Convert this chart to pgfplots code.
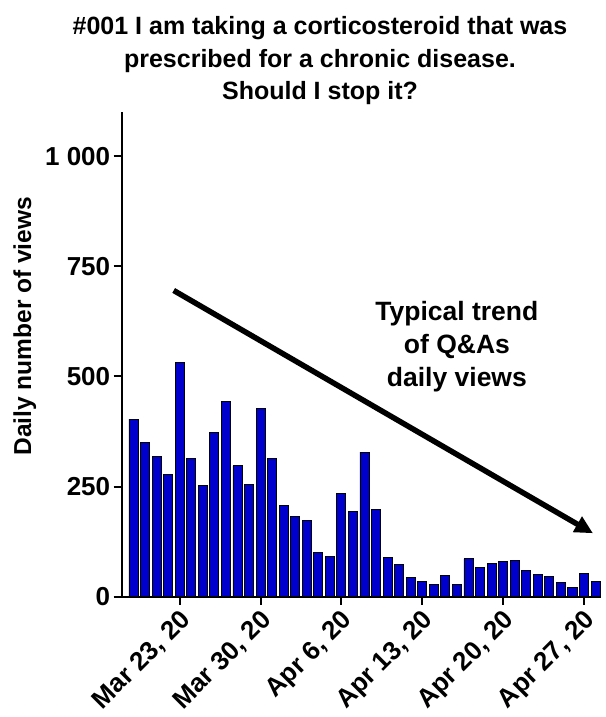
\documentclass[border=0pt]{standalone}
\usepackage{fontspec}
\setmainfont{Liberation Sans}
\usepackage{pgfplots}
\pgfplotsset{compat=1.18}
\usetikzlibrary{arrows.meta}
\definecolor{barblue}{RGB}{0,0,204}

% daily views, day 0 = Mar 19
\pgfplotstableread{
day views
0 403
1 351
2 318
3 277
4 532
5 314
6 252
7 372
8 444
9 297
10 255
11 427
12 314
13 207
14 183
15 174
16 100
17 92
18 235
19 194
20 328
21 197
22 89
23 73
24 43
25 34
26 27
27 49
28 27
29 86
30 67
31 76
32 80
33 82
34 59
35 50
36 45
37 33
38 22
39 52
40 34
}\views

\begin{document}
\begin{tikzpicture}
% frame of the whole picture
\path (-121.7pt,-120.3pt) rectangle (483.3pt,596.7pt);
\begin{axis}[
  scale only axis,
  width=479pt, height=484.7pt,
  xmin=-1.02, xmax=40.45,
  ymin=0, ymax=1100,
  axis lines*=left,
  axis line style={line width=2.2pt},
  ybar, bar width=0.78,
  xtick={4,11,18,25,32,39},
  xticklabels={{Mar 23, 20},{Mar 30, 20},{Apr 6, 20},{Apr 13, 20},{Apr 20, 20},{Apr 27, 20}},
  ytick={0,250,500,750,1000},
  yticklabels={0,250,500,750,{1 000}},
  tick align=outside,
  major tick length=8pt,
  every tick/.style={black, line width=2pt},
  ticklabel style={font=\bfseries\fontsize{26}{26}\selectfont},
  xticklabel style={overlay, xshift=-1pt, yshift=-2pt, rotate=45, anchor=north east, inner sep=1pt,
    font=\bfseries\fontsize{26}{26}\selectfont},
  ylabel={Daily number of views},
  every axis y label/.style={at={(rel axis cs:0,0.558)}, xshift=-97pt, rotate=90, anchor=center,
    font=\bfseries\fontsize{24.5}{24.5}\selectfont},
  clip=false,
]
\addplot[fill=barblue, draw=black, line width=0.8pt] table[x=day, y=views] {\views};
\draw[line width=5.5pt, -{Triangle[length=18pt, width=17pt]}] (axis cs:3.48,695) -- (axis cs:39.78,144);
\node[align=center, font=\bfseries\fontsize{26.5}{33}\selectfont] at (axis cs:28,567) {Typical trend\\of Q\&As\\daily views};
\end{axis}
\node[align=center, font=\bfseries\fontsize{25}{32.5}\selectfont] at (198.3pt,535.7pt)
  {\#001 I am taking a corticosteroid that was\\prescribed for a chronic disease.\\Should I stop it?};
\end{tikzpicture}
\end{document}
